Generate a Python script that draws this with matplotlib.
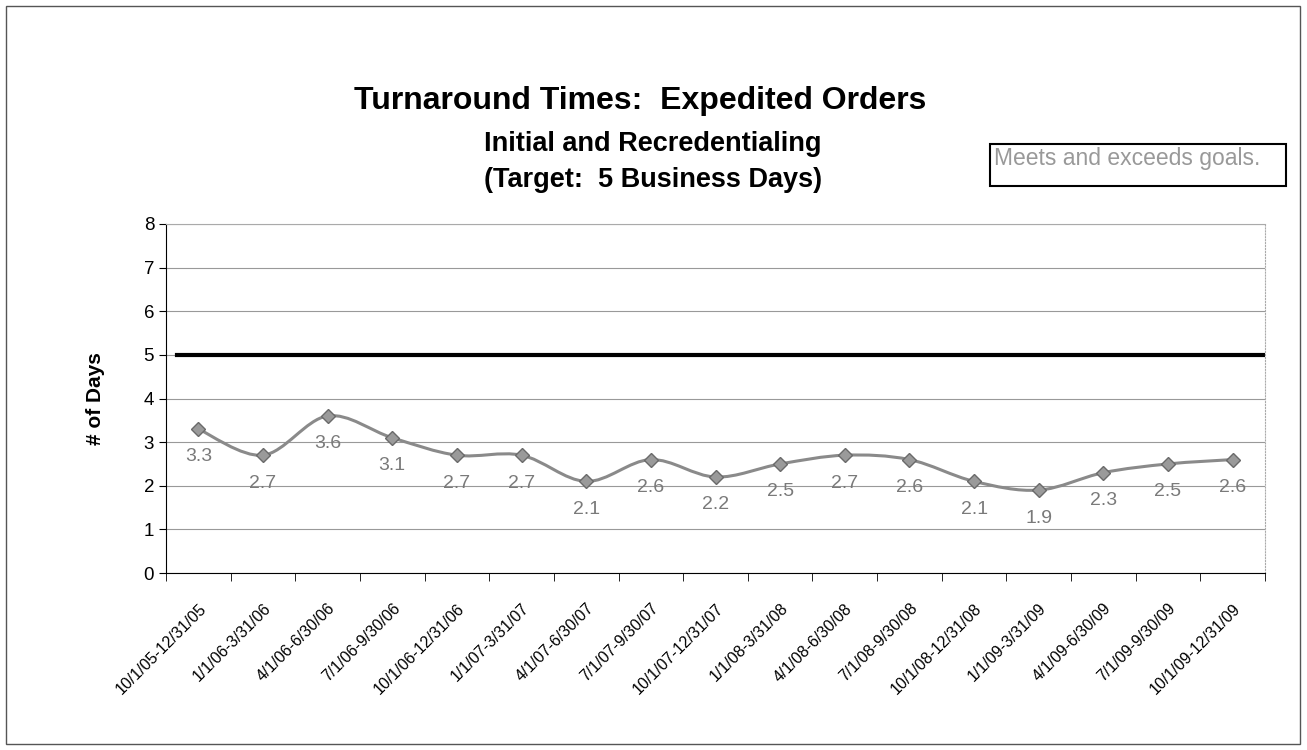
import matplotlib.pyplot as plt
import numpy as np
from matplotlib.path import Path
from matplotlib.patches import PathPatch, Rectangle

quarters = ['10/1/05-12/31/05', '1/1/06-3/31/06', '4/1/06-6/30/06', '7/1/06-9/30/06',
            '10/1/06-12/31/06', '1/1/07-3/31/07', '4/1/07-6/30/07', '7/1/07-9/30/07',
            '10/1/07-12/31/07', '1/1/08-3/31/08', '4/1/08-6/30/08', '7/1/08-9/30/08',
            '10/1/08-12/31/08', '1/1/09-3/31/09', '4/1/09-6/30/09', '7/1/09-9/30/09',
            '10/1/09-12/31/09']
days = [3.3, 2.7, 3.6, 3.1, 2.7, 2.7, 2.1, 2.6, 2.2, 2.5, 2.7, 2.6, 2.1, 1.9, 2.3, 2.5, 2.6]
target = 5

plt.rcParams['font.family'] = ['Liberation Sans', 'DejaVu Sans']

fig = plt.figure(figsize=(13.07, 7.5), dpi=100)
ax = fig.add_axes([166 / 1307, 1 - 573 / 750, 1099 / 1307, 349 / 750])

x = np.arange(len(days))
y = np.array(days, dtype=float)

# smoothed line like Excel (catmull-rom drawn as bezier segments)
verts = [(x[0], y[0])]
codes = [Path.MOVETO]
t = 1 / 6
for i in range(len(x) - 1):
    p0 = (x[max(i - 1, 0)], y[max(i - 1, 0)])
    p1 = (x[i], y[i])
    p2 = (x[i + 1], y[i + 1])
    p3 = (x[min(i + 2, len(x) - 1)], y[min(i + 2, len(x) - 1)])
    c1 = (p1[0] + (p2[0] - p0[0]) * t, p1[1] + (p2[1] - p0[1]) * t)
    c2 = (p2[0] - (p3[0] - p1[0]) * t, p2[1] - (p3[1] - p1[1]) * t)
    verts += [c1, c2, p2]
    codes += [Path.CURVE4] * 3
ax.add_patch(PathPatch(Path(verts, codes), facecolor='none', edgecolor='#8a8a8a', lw=2.2, zorder=3))
ax.plot(x, y, linestyle='none', marker='D', ms=7, color='#9a9a9a', mec='#6a6a6a', mew=1, zorder=4)

for xi, yi in zip(x, y):
    ax.annotate(f'{yi:.1f}', (xi, yi), xytext=(0, -14), textcoords='offset points',
                ha='center', va='top', fontsize=14, color='#7a7a7a')

ax.axhline(target, xmin=0.01, xmax=1, color='black', lw=3, zorder=2)

ax.set_xlim(-0.5, len(days) - 0.5)
ax.set_ylim(0, 8)
ax.set_yticks(range(9))
ax.yaxis.grid(True, color='#999999', lw=0.8)
ax.set_axisbelow(True)

ax.set_xticks(x)
ax.set_xticklabels(quarters, rotation=45, ha='right', rotation_mode='anchor', fontsize=11.5)
ax.set_xticks(np.arange(-0.5, len(days), 1), minor=True)
ax.tick_params(axis='x', which='major', length=0, pad=20)
ax.tick_params(axis='x', which='minor', length=6, direction='out')
ax.tick_params(axis='y', length=5, direction='out', labelsize=13.5)

ax.spines['top'].set_color('#aaaaaa')
ax.spines['top'].set_linewidth(0.8)
ax.spines['right'].set_color('#aaaaaa')
ax.spines['right'].set_linestyle(':')
ax.spines['right'].set_linewidth(0.8)

ax.set_ylabel('# of Days', fontsize=15, fontweight='bold', labelpad=28)

fig.text(0.49, 1 - 101 / 750, 'Turnaround Times:  Expedited Orders', ha='center', va='center',
         fontsize=23, fontweight='bold')
fig.text(0.4995, 1 - 144 / 750, 'Initial and Recredentialing', ha='center', va='center',
         fontsize=19.5, fontweight='bold')
fig.text(0.4995, 1 - 180 / 750, '(Target:  5 Business Days)', ha='center', va='center',
         fontsize=19.5, fontweight='bold')

fig.text(994 / 1307, 1 - 158 / 750, 'Meets and exceeds goals.', ha='left', va='center',
         fontsize=16.5, color='#999999')
fig.add_artist(Rectangle((990 / 1307, 1 - 186 / 750), 296 / 1307, 42 / 750,
                         transform=fig.transFigure, fill=False, edgecolor='black', lw=1.5))

fig.add_artist(Rectangle((6 / 1307, 6 / 750), 1294 / 1307, 738 / 750,
                         transform=fig.transFigure, fill=False, edgecolor='#555555', lw=1))

plt.savefig('out.png', dpi=100)
